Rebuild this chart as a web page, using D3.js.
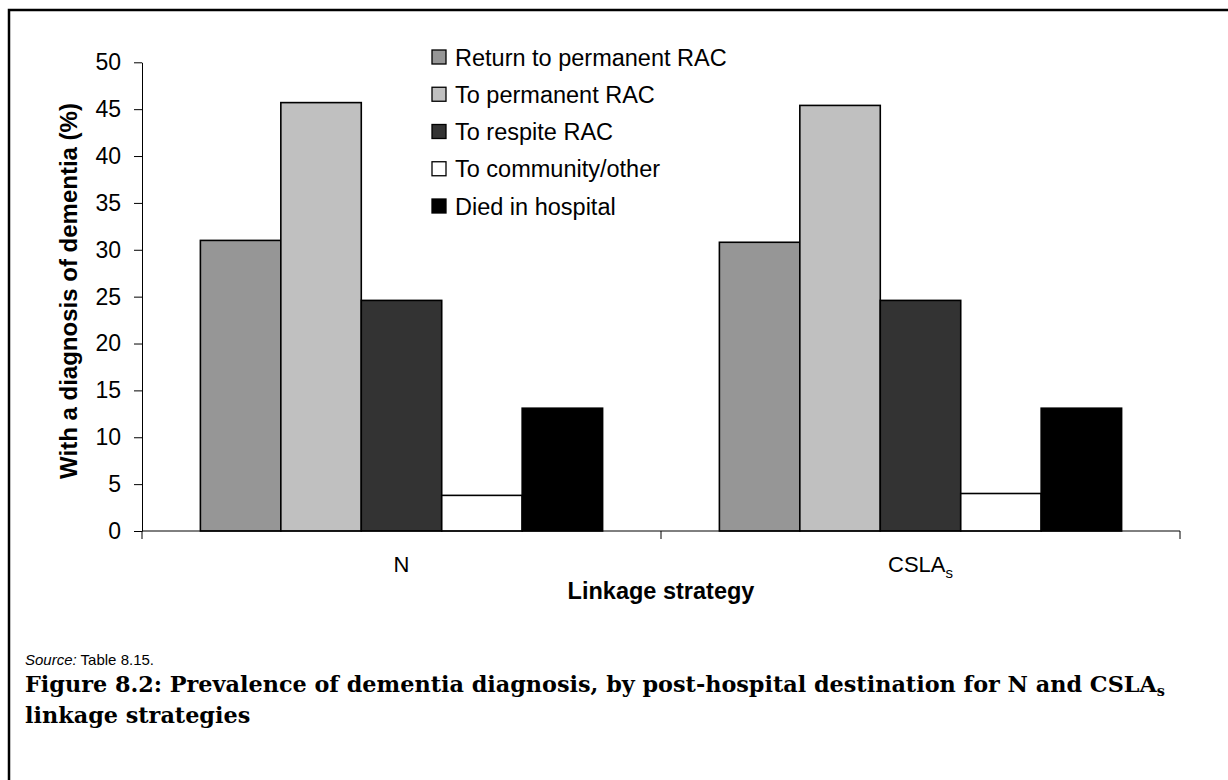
<!DOCTYPE html>
<html>
<head>
<meta charset="utf-8">
<script src="https://cdn.jsdelivr.net/npm/d3@7"></script>
<style>
  html, body { margin: 0; padding: 0; background: #fff; }
  svg { display: block; }
  text { font-family: "Liberation Sans", Arial, sans-serif; fill: #000; }
</style>
</head>
<body>
<svg id="chart" width="1228" height="780"></svg>
<script>
// ---- data ----
const categories = ["N", "CSLA"];
const seriesNames = ["Return to permanent RAC", "To permanent RAC", "To respite RAC", "To community/other", "Died in hospital"];
const seriesColors = ["#969696", "#c0c0c0", "#333333", "#ffffff", "#000000"];
const valuesN    = [31.0, 45.7, 24.6, 3.8, 13.1];
const valuesCSLA = [30.8, 45.4, 24.6, 4.0, 13.1];
const yTicks = [0, 5, 10, 15, 20, 25, 30, 35, 40, 45, 50];

const table = categories.map((c, i) => ({
  cat: c,
  vals: (i === 0 ? valuesN : valuesCSLA).map((v, j) => ({ name: seriesNames[j], value: v, color: seriesColors[j] }))
}));

const svg = d3.select("#chart");

// frame
svg.append("path")
  .attr("d", "M9,780 L9,10 L1228,10")
  .attr("fill", "none").attr("stroke", "#000").attr("stroke-width", 2.5);

const plot = { left: 142, right: 1180, top: 62.3, bottom: 531 };

const y = d3.scaleLinear().domain([0, 50]).range([plot.bottom, plot.top]);
const x0 = d3.scaleBand().domain(categories).range([plot.left, plot.right]).padding(0);
const bw = x0.bandwidth();
const gap = bw * 0.1125;
const x1 = d3.scaleBand().domain(seriesNames).range([gap, bw - gap]).padding(0);

// bars
const groups = svg.append("g").selectAll("g").data(table).join("g")
  .attr("transform", d => `translate(${x0(d.cat)},0)`);
groups.selectAll("rect").data(d => d.vals).join("rect")
  .attr("x", d => x1(d.name))
  .attr("y", d => y(d.value))
  .attr("width", x1.bandwidth())
  .attr("height", d => y(0) - y(d.value))
  .attr("fill", d => d.color)
  .attr("stroke", "#000")
  .attr("stroke-width", 1.6);

// y axis
const yAxis = d3.axisLeft(y).tickValues(yTicks).tickSize(8).tickPadding(13).tickSizeOuter(0);
const gy = svg.append("g").attr("transform", `translate(${plot.left},0)`).call(yAxis);
gy.select(".domain").attr("stroke", "#000").attr("stroke-width", 1);
gy.selectAll(".tick line").attr("stroke", "#000").attr("stroke-width", 1);
gy.selectAll(".tick text").style("font-family", "'Liberation Sans', Arial, sans-serif").style("font-size", "23px").attr("fill", "#000");

// x axis line + separators
svg.append("line")
  .attr("x1", plot.left).attr("x2", plot.right)
  .attr("y1", y(0)).attr("y2", y(0))
  .attr("stroke", "#000").attr("stroke-width", 1);
const sepPositions = [plot.left].concat(categories.map(c => x0(c) + bw));
svg.append("g").selectAll("line").data(sepPositions).join("line")
  .attr("x1", d => d).attr("x2", d => d)
  .attr("y1", y(0)).attr("y2", y(0) + 8)
  .attr("stroke", "#000").attr("stroke-width", 1);

// category labels
const catLabels = svg.append("g").selectAll("text").data(categories).join("text")
  .attr("x", d => x0(d) + bw / 2)
  .attr("y", 572)
  .attr("text-anchor", "middle")
  .style("font-size", "22px");
catLabels.each(function(d) {
  const t = d3.select(this);
  t.append("tspan").text(d);
  if (d === "CSLA") {
    t.append("tspan").attr("dy", 6).style("font-size", "15px").text("s");
  }
});

// axis titles
svg.append("text")
  .attr("x", (plot.left + plot.right) / 2)
  .attr("y", 599)
  .attr("text-anchor", "middle")
  .style("font-size", "23.5px").style("font-weight", "bold")
  .text("Linkage strategy");

svg.append("text")
  .attr("transform", `translate(77,${(100 + 482) / 2}) rotate(-90)`)
  .attr("text-anchor", "middle")
  .style("font-size", "24px").style("font-weight", "bold")
  .text("With a diagnosis of dementia (%)");

// legend
const legend = svg.append("g").selectAll("g").data(seriesNames).join("g")
  .attr("transform", (d, i) => `translate(432,${57 + i * 37.25})`);
legend.append("rect")
  .attr("x", 0).attr("y", -7).attr("width", 14).attr("height", 14)
  .attr("fill", (d, i) => seriesColors[i]).attr("stroke", "#000").attr("stroke-width", 1.3);
legend.append("text")
  .attr("x", 23).attr("y", 8.5)
  .style("font-size", "23.5px")
  .text(d => d);

// source
const src = svg.append("text").attr("x", 25).attr("y", 665).style("font-size", "15px");
src.append("tspan").style("font-style", "italic").text("Source:");
src.append("tspan").text(" Table 8.15.");

// caption (font size fitted so line 1 spans the reference width)
const capFont = "'DejaVu Serif', 'Liberation Serif', serif";
const cap1 = svg.append("text").attr("x", 25).attr("y", 692)
  .style("font-family", capFont).style("font-weight", "bold").style("font-size", "22px");
cap1.append("tspan").text("Figure 8.2: Prevalence of dementia diagnosis, by post-hospital destination for N and CSLA");
const sub = cap1.append("tspan").attr("dy", 4).style("font-size", "14px").text("s");
const w0 = cap1.node().getComputedTextLength();
const capSize = Math.min(24, 22 * 1140 / w0);
cap1.style("font-size", capSize + "px");
sub.style("font-size", (capSize * 0.65) + "px");
svg.append("text").attr("x", 25).attr("y", 723)
  .style("font-family", capFont).style("font-weight", "bold").style("font-size", capSize + "px")
  .text("linkage strategies");
</script>
</body>
</html>
